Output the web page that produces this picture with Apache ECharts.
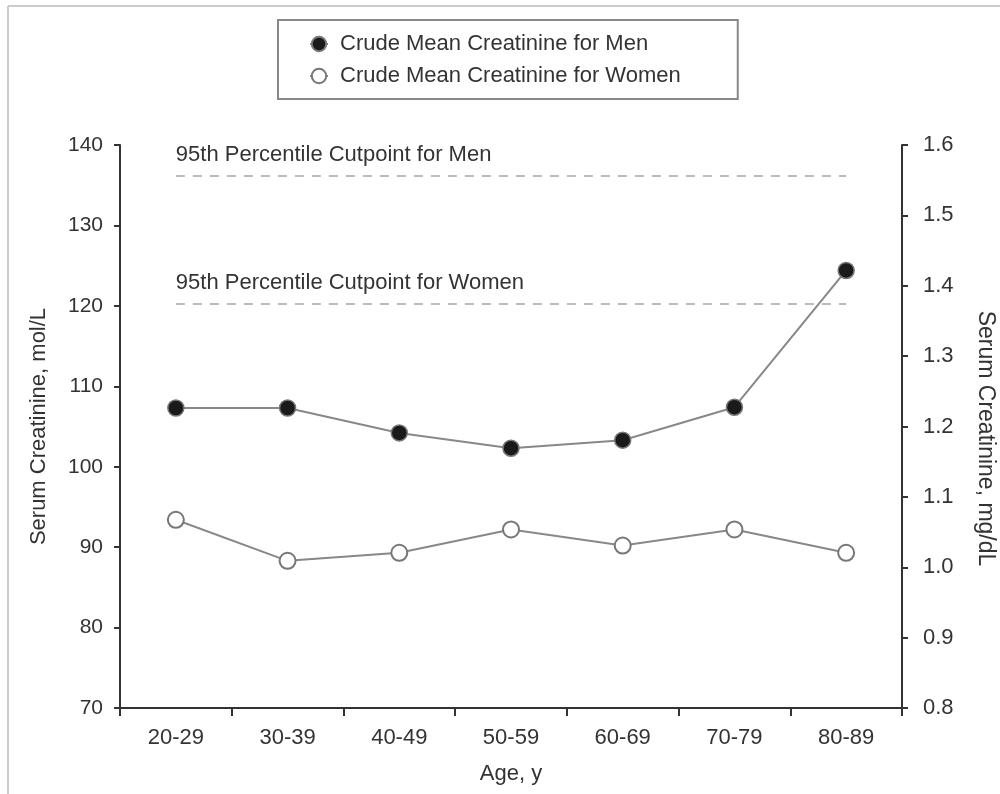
<!DOCTYPE html>
<html>
<head>
<meta charset="utf-8">
<script src="https://cdn.jsdelivr.net/npm/echarts@6/dist/echarts.min.js"></script>
<style>
html,body{margin:0;padding:0;background:#fff;}
#c{width:1000px;height:794px;}
</style>
</head>
<body>
<div id="c"></div>
<script>
const categories = ['20-29','30-39','40-49','50-59','60-69','70-79','80-89'];
const menValues = [107.3, 107.3, 104.2, 102.3, 103.3, 107.4, 124.4];
const womenValues = [93.4, 88.3, 89.3, 92.2, 90.2, 92.2, 89.3];
const cutpointMen = 136.2;
const cutpointWomen = 120.2;
const leftTicks = {min: 70, max: 140, interval: 10};
const rightTicks = {min: 0.8, max: 1.6, interval: 0.1};

const FONT = '"Liberation Sans Narrow", "Arial Narrow", "Liberation Sans", Arial, sans-serif';
const TXT = '#333';

const chart = echarts.init(document.getElementById('c'));
chart.setOption({
  backgroundColor: '#fff',
  animation: false,
  textStyle: {fontFamily: FONT, color: TXT},
  graphic: [
    {type: 'line', shape: {x1: 8, y1: 6, x2: 1000, y2: 6}, style: {stroke: '#ccc', lineWidth: 2}},
    {type: 'line', shape: {x1: 8, y1: 6, x2: 8, y2: 794}, style: {stroke: '#ccc', lineWidth: 2}}
  ],
  legend: {
    orient: 'vertical',
    left: 278,
    top: 20,
    padding: [13, 57, 12, 31],
    borderColor: '#888',
    borderWidth: 2,
    itemWidth: 18,
    itemHeight: 18,
    itemGap: 10,
    textStyle: {fontFamily: FONT, fontSize: 22, color: TXT, lineHeight: 22, padding: [0, 0, 0, 7]},
    data: ['Crude Mean Creatinine for Men', 'Crude Mean Creatinine for Women']
  },
  grid: {left: 120, right: 98, top: 145, bottom: 86, containLabel: false, outerBoundsMode: 'none'},
  xAxis: {
    type: 'category',
    data: categories,
    boundaryGap: true,
    name: 'Age, y',
    nameLocation: 'middle',
    nameGap: 55,
    nameTextStyle: {fontFamily: FONT, fontSize: 22, color: TXT},
    axisLine: {lineStyle: {color: '#333', width: 2}},
    axisTick: {show: true, length: 8, lineStyle: {color: '#333', width: 2}},
    axisLabel: {fontFamily: FONT, fontSize: 22, color: TXT, margin: 19},
    splitLine: {show: false}
  },
  yAxis: [
    {
      type: 'value',
      min: leftTicks.min, max: leftTicks.max, interval: leftTicks.interval,
      position: 'left',
      name: 'Serum Creatinine, mol/L',
      nameLocation: 'middle',
      nameGap: 70,
      nameTextStyle: {fontFamily: FONT, fontSize: 22, color: TXT},
      axisLine: {show: true, lineStyle: {color: '#333', width: 2}},
      axisTick: {show: true, length: 6, lineStyle: {color: '#333', width: 2}},
      axisLabel: {fontFamily: FONT, fontSize: 21, color: TXT, margin: 17},
      splitLine: {show: false}
    },
    {
      type: 'value',
      min: rightTicks.min, max: rightTicks.max, interval: rightTicks.interval,
      position: 'right',
      name: 'Serum Creatinine, mg/dL',
      nameLocation: 'middle',
      nameGap: 72,
      nameRotate: -90,
      nameTextStyle: {fontFamily: FONT, fontSize: 23, color: TXT, padding: [0, 0, 0, 24]},
      axisLine: {show: true, lineStyle: {color: '#333', width: 2}},
      axisTick: {show: true, length: 6, lineStyle: {color: '#333', width: 2}},
      axisLabel: {fontFamily: FONT, fontSize: 22, color: TXT, margin: 21, formatter: v => v.toFixed(1)},
      splitLine: {show: false}
    }
  ],
  series: [
    {
      name: 'Crude Mean Creatinine for Men',
      type: 'line',
      yAxisIndex: 0,
      data: menValues,
      symbol: 'circle',
      symbolSize: 16,
      lineStyle: {color: '#888', width: 2},
      itemStyle: {color: '#1a1a1a', borderColor: '#777', borderWidth: 1.5},
      z: 3,
      markLine: {
        silent: true,
        symbol: 'none',
        lineStyle: {color: '#bbb', width: 2, type: [9, 8]},
        label: {
          show: true,
          position: 'insideStartTop',
          distance: [0, 10],
          fontFamily: FONT, fontSize: 22, color: TXT,
          formatter: p => p.name
        },
        data: [
          [{name: '95th Percentile Cutpoint for Men', coord: [0, cutpointMen]}, {coord: [categories.length - 1, cutpointMen]}],
          [{name: '95th Percentile Cutpoint for Women', coord: [0, cutpointWomen]}, {coord: [categories.length - 1, cutpointWomen]}]
        ]
      }
    },
    {
      name: 'Crude Mean Creatinine for Women',
      type: 'line',
      yAxisIndex: 0,
      data: womenValues,
      symbol: 'circle',
      symbolSize: 16,
      lineStyle: {color: '#888', width: 2},
      itemStyle: {color: '#fff', borderColor: '#777', borderWidth: 2},
      z: 3
    }
  ]
});
</script>
</body>
</html>
